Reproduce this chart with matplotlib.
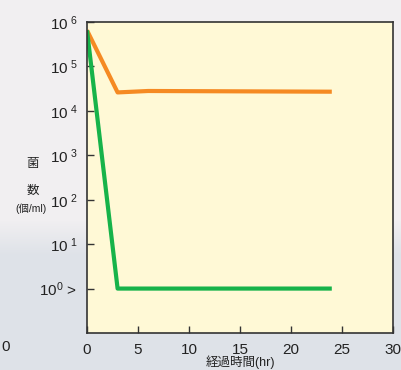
import matplotlib.pyplot as plt
import numpy as np

plt.rcParams['font.family'] = ['Liberation Sans', 'Noto Sans CJK JP', 'DejaVu Sans']
plt.rcParams['mathtext.fontset'] = 'custom'
plt.rcParams['mathtext.rm'] = 'Liberation Sans'
plt.rcParams['mathtext.it'] = 'Liberation Sans'
plt.rcParams['mathtext.bf'] = 'Liberation Sans'

# data
hours_orange = [0, 3, 6, 24]
count_orange = [6.5e5, 2.6e4, 2.8e4, 2.7e4]
hours_green = [0, 3, 24]
count_green = [6.5e5, 1.0, 1.0]
xticks = [0, 5, 10, 15, 20, 25, 30]
yticks = [1e0, 1e1, 1e2, 1e3, 1e4, 1e5, 1e6]
ytick_labels = ['$\\mathrm{10^0}$ >', '$\\mathrm{10^{\\ 1}}$', '$\\mathrm{10^{\\ 2}}$',
                '$\\mathrm{10^{\\ 3}}$', '$\\mathrm{10^{\\ 4}}$', '$\\mathrm{10^{\\ 5}}$',
                '$\\mathrm{10^{\\ 6}}$']

fig = plt.figure(figsize=(4.01, 3.70), dpi=100)

# background: light top fading into a bluish grey lower part
bg = fig.add_axes([0, 0, 1, 1], zorder=-10)
grad = np.ones((370, 1, 3))
top = np.array([241, 239, 241]) / 255
bot = np.array([222, 226, 232]) / 255
for i in range(370):
    t = np.clip((i - 220) / 35, 0, 1)
    grad[i, 0] = top * (1 - t) + bot * t
bg.imshow(grad, aspect='auto', extent=[0, 1, 0, 1], origin='upper')
bg.axis('off')

ax = fig.add_axes([87 / 401, 1 - 333 / 370, 306 / 401, 311 / 370])
ax.set_facecolor('#fff9d6')

ax.plot(hours_orange, count_orange, color='#f58a23', lw=3, solid_capstyle='butt')
ax.plot(hours_green, count_green, color='#16b34a', lw=3, solid_capstyle='butt')

ax.set_yscale('log')
ax.set_xlim(0, 30)
ax.set_ylim(1e-1, 1e6)
ax.set_xticks(xticks)
ax.set_xticklabels([str(v) for v in xticks], fontsize=11, color='#222222')
ax.set_yticks(yticks)
ax.set_yticklabels(ytick_labels, fontsize=11, color='#222222')
ax.minorticks_off()
ax.tick_params(direction='in', length=5, width=1, color='#333333', pad=7)
for s in ax.spines.values():
    s.set_color('#333333')
    s.set_linewidth(1.2)

fig.text(240 / 401, 1 - 362 / 370, '経過時間(hr)', ha='center', va='center',
         fontsize=9, color='#222222')
fig.text(33 / 401, 1 - 164 / 370, '菌', ha='center', va='center',
         fontsize=9, color='#222222')
fig.text(33 / 401, 1 - 191 / 370, '数', ha='center', va='center',
         fontsize=9, color='#222222')
fig.text(31 / 401, 1 - 209 / 370, '(個/ml)', ha='center', va='center',
         fontsize=7.5, color='#222222')
fig.text(1 / 401, 1 - 347 / 370, '0', ha='left', va='center',
         fontsize=11, color='#222222')

fig.savefig('out.png', dpi=100)
